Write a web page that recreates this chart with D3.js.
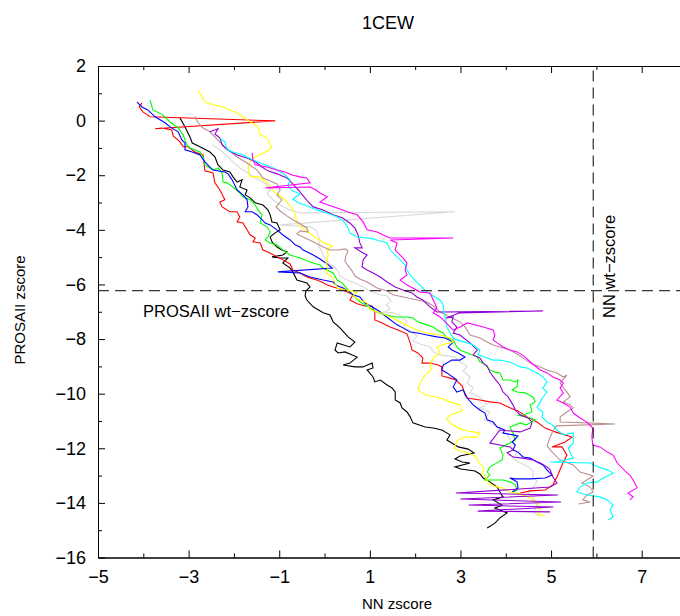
<!DOCTYPE html>
<html>
<head>
<meta charset="utf-8">
<script src="https://cdn.jsdelivr.net/npm/d3@7"></script>
<style>
  body { margin: 0; background: #fff; }
  svg { display: block; }
  text { font-family: "Liberation Sans", Arial, Helvetica, sans-serif; fill: #000; }
</style>
</head>
<body>
<svg id="chart" width="680" height="616"></svg>
<script>
// ---- axis ticks ----
const xMajorTicks = [-5, -3, -1, 1, 3, 5, 7];
const xMinorTicks = [-4, -2, 0, 2, 4, 6, 8];
const yMajorTicks = [2, 0, -2, -4, -6, -8, -10, -12, -14, -16];
const yMinorTicks = [1, -1, -3, -5, -7, -9, -11, -13, -15];

// ---- reference z-scores ----
const prosaWtZ = -6.23;
const nnWtZ = 5.93;

// ---- trajectories: [NN zscore, PROSAII zscore] ----
const seriesBlack = [[-3.19,0.10],[-3.08,-0.23],[-2.97,-0.60],[-2.92,-0.82],[-2.75,-0.96],[-2.53,-1.15],[-2.42,-1.33],[-2.35,-1.62],[-2.24,-1.81],[-2.09,-1.88],[-2.02,-2.06],[-1.93,-2.25],[-1.82,-2.17],[-1.87,-2.43],[-1.71,-2.54],[-1.75,-2.72],[-1.64,-2.83],[-1.53,-3.01],[-1.36,-3.09],[-1.25,-3.27],[-1.20,-3.45],[-1.16,-3.71],[-1.05,-3.75],[-0.98,-4.00],[-1.09,-4.11],[-1.20,-4.26],[-1.16,-4.44],[-1.05,-4.63],[-0.94,-4.74],[-0.83,-4.81],[-0.92,-4.92],[-1.16,-4.99],[-0.98,-5.03],[-0.81,-5.03],[-0.92,-5.21],[-0.76,-5.40],[-0.70,-5.54],[-0.61,-5.84],[-0.39,-5.95],[-0.32,-6.09],[-0.41,-6.24],[-0.43,-6.42],[-0.39,-6.57],[-0.25,-6.82],[-0.03,-7.04],[0.12,-7.12],[0.19,-7.37],[0.34,-7.59],[0.52,-7.92],[0.67,-8.11],[0.56,-8.29],[0.28,-8.14],[0.23,-8.40],[0.30,-8.51],[0.45,-8.47],[0.72,-8.66],[0.56,-8.88],[0.41,-8.95],[0.67,-9.02],[0.85,-9.02],[1.05,-8.88],[1.07,-9.06],[0.94,-9.13],[1.07,-9.39],[1.11,-9.57],[1.23,-9.50],[1.38,-9.68],[1.49,-9.79],[1.56,-9.94],[1.56,-10.23],[1.67,-10.34],[1.71,-10.52],[1.82,-10.67],[1.89,-10.85],[1.95,-11.07],[2.22,-11.22],[2.40,-11.26],[2.59,-11.33],[2.77,-11.51],[2.70,-11.70],[2.81,-11.81],[2.95,-11.95],[3.17,-12.03],[3.30,-12.17],[2.99,-12.28],[2.88,-12.39],[3.04,-12.50],[3.21,-12.54],[2.88,-12.68],[3.01,-12.76],[3.32,-12.83],[3.43,-12.94],[3.50,-13.09],[3.65,-13.23],[3.81,-13.42],[3.87,-13.60],[3.94,-13.78],[3.72,-13.89],[3.92,-14.08],[3.76,-14.19],[4.03,-14.37],[3.87,-14.55],[3.76,-14.74],[3.59,-14.92]];

const seriesRed = [[-4.03,0.65],[-4.09,0.50],[-4.01,0.32],[-3.85,0.14],[-1.09,-0.01],[-3.74,-0.30],[-3.59,-0.27],[-3.37,-0.34],[-3.34,-0.56],[-3.19,-0.78],[-3.12,-0.96],[-3.01,-0.96],[-2.86,-1.15],[-2.68,-1.26],[-2.64,-1.84],[-2.46,-1.92],[-2.42,-2.28],[-2.31,-2.54],[-2.20,-2.90],[-2.31,-2.98],[-2.26,-3.16],[-2.09,-3.34],[-1.93,-3.34],[-1.87,-3.53],[-1.93,-3.71],[-1.80,-3.75],[-1.71,-4.00],[-1.64,-4.19],[-1.53,-4.30],[-1.58,-4.44],[-1.42,-4.48],[-1.36,-4.74],[-1.25,-4.81],[-1.05,-4.99],[-0.92,-5.10],[-0.76,-5.25],[-0.70,-5.47],[-0.54,-5.58],[-0.39,-5.73],[-0.17,-5.84],[-0.06,-5.91],[0.06,-6.02],[0.19,-6.09],[0.41,-6.20],[0.63,-6.38],[0.56,-6.57],[0.72,-6.71],[0.89,-6.79],[1.05,-6.79],[1.11,-7.04],[1.11,-7.30],[1.27,-7.41],[1.45,-7.56],[1.62,-7.67],[1.82,-7.81],[1.89,-8.14],[1.93,-8.40],[2.06,-8.51],[2.17,-8.69],[2.15,-8.88],[2.33,-8.88],[2.51,-8.95],[2.59,-9.02],[2.59,-9.35],[2.77,-9.43],[2.90,-9.50],[3.04,-9.72],[3.10,-10.05],[3.15,-10.16],[3.43,-10.23],[3.65,-10.30],[3.87,-10.34],[4.09,-10.52],[4.27,-10.63],[4.47,-10.85],[4.69,-11.04],[4.87,-11.26],[5.09,-11.40],[5.31,-11.51],[5.46,-11.59],[5.31,-11.77],[5.02,-11.95],[5.24,-11.95],[5.35,-12.25],[5.26,-12.54],[5.13,-13.05],[5.04,-13.34],[4.87,-13.53],[4.54,-13.56],[4.32,-13.64]];

const seriesGreen = [[-3.85,0.76],[-3.79,0.39],[-3.57,0.21],[-3.41,-0.05],[-3.23,-0.27],[-3.12,-0.52],[-3.04,-0.89],[-2.97,-1.00],[-2.75,-1.15],[-2.68,-1.33],[-2.64,-1.62],[-2.46,-1.81],[-2.35,-1.73],[-2.26,-1.92],[-2.24,-2.25],[-2.15,-2.28],[-2.02,-2.43],[-1.87,-2.65],[-1.80,-2.79],[-1.64,-2.90],[-1.53,-3.09],[-1.47,-3.27],[-1.38,-3.45],[-1.42,-3.75],[-1.27,-3.89],[-1.20,-4.08],[-1.25,-4.26],[-1.31,-4.37],[-1.20,-4.48],[-1.05,-4.55],[-0.92,-4.74],[-0.76,-4.92],[-0.54,-5.03],[-0.32,-5.18],[-0.10,-5.29],[-0.03,-5.40],[0.19,-5.58],[0.28,-5.84],[0.39,-5.95],[0.52,-6.20],[0.67,-6.46],[0.78,-6.64],[0.96,-6.82],[1.18,-7.04],[1.38,-7.12],[1.56,-7.19],[1.82,-7.19],[1.95,-7.23],[2.06,-7.37],[2.26,-7.48],[2.40,-7.56],[2.48,-7.67],[2.62,-7.78],[2.70,-7.96],[2.84,-8.03],[2.92,-8.29],[2.99,-8.40],[3.15,-8.51],[3.37,-8.66],[3.43,-8.84],[3.50,-8.88],[3.65,-9.13],[3.76,-9.21],[3.87,-9.24],[3.94,-9.50],[4.09,-9.50],[4.21,-9.57],[4.27,-9.50],[4.25,-9.75],[4.14,-9.86],[4.25,-9.94],[4.43,-9.97],[4.60,-10.12],[4.65,-10.30],[4.54,-10.41],[4.58,-10.67],[4.38,-10.78],[4.25,-10.78],[4.54,-10.89],[4.65,-10.96],[4.45,-11.15],[4.32,-11.07],[4.09,-11.22],[4.16,-11.44],[4.21,-11.70],[3.87,-11.99],[3.94,-12.25],[3.92,-12.43],[3.65,-12.68],[3.59,-12.87],[3.65,-12.98],[3.54,-13.16],[3.94,-13.16],[4.09,-13.23],[4.21,-13.34],[4.25,-13.53],[4.14,-13.64]];

const seriesBlue = [[-4.14,0.68],[-4.03,0.50],[-3.90,0.39],[-3.74,0.14],[-3.52,-0.08],[-3.41,-0.23],[-3.23,-0.41],[-3.15,-0.71],[-3.08,-0.82],[-3.08,-1.07],[-2.92,-1.15],[-2.75,-1.26],[-2.64,-1.51],[-2.53,-1.70],[-2.46,-1.81],[-2.20,-1.88],[-2.13,-1.95],[-2.04,-2.17],[-1.93,-2.54],[-1.80,-2.72],[-1.71,-2.90],[-1.69,-3.16],[-1.75,-3.34],[-1.60,-3.34],[-1.49,-3.45],[-1.42,-3.56],[-1.31,-3.75],[-1.20,-3.82],[-1.05,-4.00],[-0.92,-4.19],[-0.76,-4.37],[-0.65,-4.55],[-0.54,-4.63],[-0.47,-4.74],[-0.25,-4.92],[-0.10,-5.07],[0.06,-5.25],[0.17,-5.40],[-1.03,-5.54],[-0.54,-5.58],[-0.32,-5.73],[-0.03,-5.84],[0.19,-5.91],[0.28,-6.05],[0.41,-6.13],[0.56,-6.28],[0.63,-6.38],[0.78,-6.46],[0.89,-6.68],[1.05,-6.82],[1.23,-7.01],[1.40,-7.23],[1.60,-7.48],[1.73,-7.59],[1.89,-7.74],[2.06,-7.78],[2.26,-7.85],[2.48,-7.92],[2.66,-7.96],[2.84,-8.11],[2.73,-8.29],[2.81,-8.40],[2.95,-8.51],[3.10,-8.66],[2.99,-8.77],[2.81,-8.77],[2.62,-8.95],[2.59,-9.13],[2.70,-9.24],[2.92,-9.50],[2.84,-9.75],[2.92,-9.94],[3.06,-9.86],[3.15,-10.16],[3.28,-10.41],[3.43,-10.60],[3.54,-10.71],[3.59,-10.96],[3.72,-11.04],[3.81,-11.22],[3.98,-11.33],[3.94,-11.44],[4.16,-11.51],[4.27,-11.55],[4.14,-11.77],[4.21,-11.88],[4.16,-12.06],[4.27,-12.14],[4.38,-12.32],[4.54,-12.36],[4.69,-12.50],[4.82,-12.61],[4.91,-12.79],[5.02,-12.98],[4.87,-13.09],[4.54,-13.12],[4.21,-13.12],[4.09,-13.09],[4.25,-13.23],[4.27,-13.45],[4.14,-13.60]];

const seriesYellow = [[-2.79,1.12],[-2.70,0.87],[-2.64,0.68],[-2.46,0.58],[-2.24,0.50],[-1.93,0.28],[-1.71,0.03],[-1.47,-0.23],[-1.42,-0.52],[-1.27,-0.63],[-1.16,-1.00],[-1.31,-1.15],[-1.53,-1.33],[-1.64,-1.51],[-1.69,-1.73],[-1.64,-2.06],[-1.45,-2.06],[-1.31,-2.21],[-1.20,-2.43],[-1.09,-2.65],[-0.94,-2.79],[-0.83,-2.98],[-0.72,-3.20],[-0.65,-3.45],[-0.61,-3.71],[-0.50,-3.93],[-0.36,-4.08],[-0.19,-4.30],[-0.01,-4.48],[0.17,-4.59],[0.06,-4.74],[0.08,-4.96],[0.03,-5.18],[0.08,-5.40],[0.03,-5.58],[0.17,-5.73],[0.23,-5.91],[0.28,-6.13],[0.45,-6.20],[0.72,-6.28],[0.63,-6.42],[0.78,-6.57],[0.94,-6.68],[1.00,-6.93],[1.23,-7.04],[1.45,-7.19],[1.67,-7.37],[1.89,-7.56],[2.04,-7.67],[2.26,-7.78],[2.55,-7.85],[2.77,-7.96],[2.84,-8.11],[2.66,-8.18],[2.48,-8.29],[2.55,-8.51],[2.40,-8.69],[2.33,-8.91],[2.35,-9.13],[2.22,-9.32],[2.11,-9.61],[2.06,-9.86],[2.22,-10.05],[2.55,-10.16],[2.77,-10.30],[2.99,-10.41],[3.04,-10.63],[2.77,-10.78],[2.70,-10.93],[2.81,-11.11],[2.99,-11.29],[3.17,-11.37],[3.43,-11.44],[3.35,-11.59],[3.06,-11.59],[2.92,-11.73],[2.86,-11.99],[2.99,-12.10],[3.17,-12.17],[3.35,-12.32],[3.41,-12.54],[3.52,-12.72],[3.48,-12.91],[3.57,-13.09],[3.61,-13.27],[3.72,-13.38],[3.92,-13.45],[4.09,-13.60],[4.32,-13.67],[4.54,-13.82],[4.69,-14.00],[4.76,-14.22],[4.71,-14.41],[4.87,-14.48]];

const seriesBrown = [[-2.86,0.14],[-2.79,-0.08],[-2.68,-0.27],[-2.53,-0.41],[-2.42,-0.60],[-2.31,-0.78],[-2.20,-0.96],[-1.93,-1.33],[-1.71,-1.55],[-1.49,-1.81],[-1.36,-2.10],[-1.20,-2.21],[-1.05,-2.32],[-0.98,-2.54],[-1.05,-2.72],[-0.94,-2.90],[-1.07,-3.16],[-0.98,-3.31],[-0.83,-3.49],[-0.70,-3.63],[-0.54,-3.78],[-0.39,-3.93],[-0.36,-4.08],[-0.54,-4.04],[-0.61,-4.15],[-0.43,-4.30],[-0.25,-4.44],[-0.03,-4.63],[0.12,-4.74],[0.30,-4.74],[0.45,-4.70],[0.52,-4.77],[0.47,-4.96],[0.45,-5.14],[0.52,-5.32],[0.61,-5.51],[0.67,-5.69],[0.78,-5.80],[0.94,-5.91],[1.16,-6.13],[1.38,-6.24],[1.51,-6.38],[1.82,-6.49],[2.04,-6.57],[2.26,-6.64],[2.40,-6.79],[2.55,-7.01],[2.81,-7.23],[2.99,-7.37],[3.12,-7.59],[3.21,-7.85],[3.43,-7.96],[3.59,-8.11],[3.72,-8.22],[3.94,-8.33],[4.09,-8.40],[4.25,-8.55],[4.38,-8.69],[4.54,-8.88],[4.76,-9.02],[4.91,-9.13],[5.13,-9.24],[5.27,-9.39],[5.35,-9.32],[5.20,-9.61],[5.27,-9.79],[5.35,-9.94],[5.42,-10.12],[5.27,-10.30],[5.42,-10.41],[5.49,-10.52],[5.35,-10.67],[5.20,-10.85],[5.20,-11.04],[5.79,-11.07],[6.41,-11.11],[5.11,-11.18],[5.04,-11.37],[4.98,-11.59],[4.91,-11.92],[5.04,-12.17],[5.20,-12.43],[5.49,-12.61],[5.64,-12.87],[5.93,-13.01],[5.79,-13.16],[5.68,-13.27],[5.86,-13.42],[5.93,-13.60],[5.79,-13.71],[5.70,-13.89],[5.86,-13.97],[5.60,-14.04]];

const seriesGrey = [[-2.48,-0.89],[-2.31,-1.07],[-2.15,-1.29],[-2.02,-1.51],[-1.87,-1.73],[-1.69,-1.92],[-1.53,-2.10],[-1.42,-2.21],[-1.29,-2.32],[-1.20,-2.54],[-1.27,-2.68],[-1.16,-2.87],[-0.98,-3.09],[-0.76,-3.27],[-0.54,-3.38],[2.88,-3.34],[-0.98,-3.82],[-0.65,-3.86],[-0.30,-3.89],[-0.17,-4.04],[-0.14,-4.22],[-0.10,-4.41],[-0.14,-4.59],[-0.06,-4.77],[-0.03,-4.96],[0.06,-5.14],[0.12,-5.25],[0.21,-5.36],[0.30,-5.51],[0.34,-5.69],[0.45,-5.80],[0.56,-5.87],[0.72,-5.98],[0.85,-6.09],[1.00,-6.24],[1.16,-6.35],[1.38,-6.42],[1.47,-6.60],[1.36,-6.75],[1.45,-6.90],[1.31,-7.01],[1.51,-7.04],[1.67,-7.15],[1.82,-7.37],[1.73,-7.56],[1.89,-7.70],[2.04,-7.89],[1.95,-8.07],[2.11,-8.18],[2.33,-8.29],[2.40,-8.47],[2.55,-8.58],[2.88,-8.66],[2.99,-8.84],[3.15,-8.99],[3.06,-9.17],[3.21,-9.39],[3.15,-9.61],[3.28,-9.79],[3.21,-9.97],[3.43,-10.12],[3.59,-10.38],[3.43,-10.52],[3.65,-10.67],[3.52,-10.96],[3.70,-11.11],[3.87,-11.26],[3.81,-11.37],[4.03,-11.48],[4.09,-11.70],[4.12,-11.95],[4.25,-12.17],[4.16,-12.36],[4.32,-12.54],[4.47,-12.65],[4.60,-12.83],[4.60,-13.05],[4.69,-13.20],[4.60,-13.45],[4.47,-13.60],[4.60,-13.78],[4.69,-14.11],[4.60,-14.33],[4.76,-14.52]];

const seriesViolet = [[-2.53,-0.41],[-2.35,-0.30],[-2.42,-0.49],[-2.31,-0.63],[-2.26,-0.89],[-2.15,-1.07],[-1.93,-1.26],[-1.71,-1.37],[-1.53,-1.51],[-1.38,-1.70],[-1.25,-1.84],[-1.05,-1.95],[-0.83,-2.10],[-0.70,-2.32],[-0.58,-2.54],[-0.47,-2.76],[-0.36,-2.98],[-0.25,-3.16],[-0.03,-3.27],[0.19,-3.45],[0.39,-3.56],[0.56,-3.75],[0.67,-3.93],[0.74,-4.19],[0.78,-4.48],[0.83,-4.66],[0.67,-4.66],[0.85,-4.85],[0.94,-4.92],[0.85,-5.10],[0.83,-5.36],[0.94,-5.47],[1.07,-5.58],[1.23,-5.73],[1.38,-5.91],[1.56,-6.09],[1.73,-6.20],[1.93,-6.31],[2.04,-6.46],[2.17,-6.57],[2.33,-6.82],[2.48,-7.01],[4.82,-6.97],[2.99,-7.04],[2.68,-7.23],[2.84,-7.19],[2.81,-7.37],[2.92,-7.56],[2.84,-7.78],[2.99,-7.85],[3.21,-8.14],[3.37,-8.40],[3.28,-8.58],[3.43,-8.69],[3.50,-8.88],[3.59,-8.99],[3.65,-9.21],[3.76,-9.46],[3.87,-9.68],[3.94,-9.94],[4.05,-10.12],[4.16,-10.41],[4.21,-10.60],[4.32,-10.78],[4.49,-10.89],[4.58,-11.04],[4.54,-11.26],[4.32,-11.40],[3.87,-11.33],[3.65,-11.81],[3.87,-11.88],[4.09,-11.95],[4.16,-12.06],[4.03,-12.17],[4.16,-12.32],[4.38,-12.36],[4.60,-12.43],[4.76,-12.54],[4.91,-12.68],[4.98,-12.79],[5.04,-13.05],[5.13,-13.27],[4.98,-13.42],[2.90,-13.64],[5.15,-13.71],[3.00,-13.86],[5.22,-13.97],[3.18,-14.08],[5.05,-14.15],[3.38,-14.30],[4.98,-14.33],[4.70,-14.33]];

const seriesCyan = [[-2.31,-0.63],[-2.20,-0.78],[-2.15,-1.07],[-2.02,-1.15],[-1.80,-1.26],[-1.58,-1.44],[-1.36,-1.59],[-1.14,-1.73],[-0.92,-1.92],[-0.76,-2.17],[-0.81,-2.39],[-0.70,-2.58],[-0.54,-2.68],[-0.70,-2.87],[-0.58,-3.01],[-0.39,-3.12],[-0.17,-3.27],[0.06,-3.38],[0.28,-3.53],[0.41,-3.67],[0.52,-3.93],[0.56,-4.11],[0.72,-4.26],[0.94,-4.30],[1.07,-4.33],[1.23,-4.41],[1.38,-4.48],[1.45,-4.74],[1.60,-4.99],[1.67,-5.10],[1.78,-5.29],[1.82,-5.47],[1.89,-5.66],[1.95,-5.77],[2.06,-5.95],[2.17,-6.13],[2.26,-6.28],[2.40,-6.42],[2.55,-6.57],[2.62,-6.75],[2.64,-7.04],[2.68,-7.37],[2.70,-7.56],[2.84,-7.96],[2.92,-8.03],[3.15,-8.14],[3.28,-8.22],[3.43,-8.40],[3.39,-8.58],[3.59,-8.69],[3.72,-8.77],[3.87,-8.77],[4.09,-8.84],[4.32,-9.02],[4.47,-9.06],[4.69,-9.24],[4.82,-9.39],[4.91,-9.57],[4.82,-9.79],[4.91,-9.94],[4.82,-10.12],[4.76,-10.30],[4.69,-10.49],[4.76,-10.60],[4.82,-10.67],[4.80,-10.85],[4.91,-11.04],[5.04,-11.15],[5.13,-11.33],[5.27,-11.51],[5.49,-11.44],[5.49,-11.81],[5.38,-11.99],[5.42,-12.17],[5.49,-12.36],[5.13,-12.50],[4.98,-12.50],[5.86,-12.54],[6.02,-12.68],[6.24,-12.79],[6.37,-12.91],[6.15,-13.09],[6.02,-13.23],[5.79,-13.27],[5.64,-13.42],[5.57,-13.60],[5.79,-13.71],[6.08,-13.78],[6.24,-13.89],[6.37,-14.08],[6.30,-14.26],[6.37,-14.52],[6.26,-14.63]];

const seriesMagenta = [[-1.60,-1.18],[-1.58,-1.44],[-1.53,-1.62],[-1.27,-1.70],[-1.05,-1.81],[-0.87,-1.88],[-0.72,-1.99],[-0.54,-2.06],[-0.39,-2.10],[-0.32,-2.28],[-1.31,-2.47],[-0.32,-2.43],[-0.19,-2.54],[-0.10,-2.65],[0.06,-2.79],[-0.10,-2.98],[0.08,-3.09],[0.28,-3.20],[0.50,-3.34],[0.72,-3.45],[0.85,-3.71],[0.94,-4.00],[1.16,-4.08],[1.34,-4.23],[1.45,-4.30],[2.84,-4.30],[1.45,-4.37],[1.60,-4.48],[1.56,-4.74],[1.73,-5.03],[1.82,-5.21],[1.78,-5.47],[1.82,-5.66],[1.67,-5.84],[1.82,-6.02],[1.95,-6.13],[2.11,-6.28],[2.33,-6.31],[2.40,-6.57],[2.48,-6.86],[2.40,-7.04],[2.55,-7.19],[2.62,-7.30],[2.84,-7.67],[2.99,-7.56],[3.15,-7.41],[3.43,-7.52],[3.72,-7.67],[3.76,-7.85],[3.72,-8.03],[3.81,-8.14],[3.94,-8.29],[4.09,-8.40],[4.25,-8.47],[4.36,-8.58],[4.43,-8.66],[4.54,-8.84],[4.76,-9.13],[4.91,-9.24],[5.04,-9.39],[5.20,-9.50],[5.27,-9.61],[5.20,-9.79],[5.27,-9.97],[5.13,-10.23],[5.27,-10.34],[5.42,-10.49],[5.49,-10.71],[5.64,-10.89],[5.79,-11.04],[5.92,-11.26],[5.90,-11.59],[5.92,-11.88],[6.08,-11.95],[6.24,-12.14],[6.37,-12.25],[6.46,-12.54],[6.68,-12.91],[6.74,-12.98],[6.81,-13.16],[6.90,-13.45],[6.70,-13.64],[6.81,-13.78],[6.74,-13.89]];

const seriesList = [
  { name: "grey",    color: "#d9d9d9", pts: seriesGrey },
  { name: "black",   color: "#000000", pts: seriesBlack },
  { name: "red",     color: "#ff0000", pts: seriesRed },
  { name: "green",   color: "#00ff00", pts: seriesGreen },
  { name: "blue",    color: "#0000ff", pts: seriesBlue },
  { name: "yellow",  color: "#ffff00", pts: seriesYellow },
  { name: "brown",   color: "#bc8f8f", pts: seriesBrown },
  { name: "violet",  color: "#9400d3", pts: seriesViolet },
  { name: "cyan",    color: "#00ffff", pts: seriesCyan },
  { name: "magenta", color: "#ff00ff", pts: seriesMagenta }
];

// ---- layout ----
const svg = d3.select("#chart");
const plotL = 98, plotR = 687, plotT = 66, plotB = 557.5;
const x = d3.scaleLinear().domain([-5, 8]).range([plotL, plotR]);
const y = d3.scaleLinear().domain([-16, 2]).range([plotB, plotT]);
const fmt = d3.format("d");

function styleAxis(g, labelSize) {
  g.attr("font-family", null).attr("font-size", null);
  g.selectAll("path.domain").attr("stroke", "#000").attr("stroke-width", 1);
  g.selectAll(".tick line").attr("stroke", "#000").attr("stroke-width", 1);
  g.selectAll(".tick text").attr("font-size", labelSize).attr("fill", "#000");
}

// bottom axis
svg.append("g").attr("transform", `translate(0,${plotB})`)
  .call(d3.axisBottom(x).tickValues(xMajorTicks).tickSizeInner(-7).tickSizeOuter(0).tickPadding(13).tickFormat(fmt))
  .call(g => styleAxis(g, 18));
svg.append("g").attr("transform", `translate(0,${plotB})`)
  .call(d3.axisBottom(x).tickValues(xMinorTicks).tickSizeInner(-4).tickSizeOuter(0).tickFormat(""))
  .call(g => styleAxis(g, 18));
// top axis
svg.append("g").attr("transform", `translate(0,${plotT})`)
  .call(d3.axisTop(x).tickValues(xMajorTicks).tickSizeInner(-7).tickSizeOuter(0).tickFormat(""))
  .call(g => styleAxis(g, 18));
svg.append("g").attr("transform", `translate(0,${plotT})`)
  .call(d3.axisTop(x).tickValues(xMinorTicks).tickSizeInner(-4).tickSizeOuter(0).tickFormat(""))
  .call(g => styleAxis(g, 18));
// left axis
svg.append("g").attr("transform", `translate(${plotL},0)`)
  .call(d3.axisLeft(y).tickValues(yMajorTicks).tickSizeInner(-7).tickSizeOuter(0).tickPadding(12).tickFormat(fmt))
  .call(g => styleAxis(g, 18));
svg.append("g").attr("transform", `translate(${plotL},0)`)
  .call(d3.axisLeft(y).tickValues(yMinorTicks).tickSizeInner(-4).tickSizeOuter(0).tickFormat(""))
  .call(g => styleAxis(g, 18));
// right axis
svg.append("g").attr("transform", `translate(${plotR},0)`)
  .call(d3.axisRight(y).tickValues(yMajorTicks).tickSizeInner(-7).tickSizeOuter(0).tickFormat(""))
  .call(g => styleAxis(g, 18));

// ---- trajectories ----
const line = d3.line().x(d => x(d[0])).y(d => y(d[1]));
svg.append("g").selectAll("path.traj")
  .data(seriesList)
  .join("path")
  .attr("class", "traj")
  .attr("fill", "none")
  .attr("stroke", d => d.color)
  .attr("stroke-width", 1.1)
  .attr("stroke-linejoin", "miter")
  .attr("d", d => line(d.pts));

// ---- reference lines ----
svg.append("line")
  .attr("x1", x(-5)).attr("x2", x(8))
  .attr("y1", y(prosaWtZ)).attr("y2", y(prosaWtZ))
  .attr("stroke", "#000").attr("stroke-width", 1).attr("stroke-dasharray", "11,6");
svg.append("line")
  .attr("x1", x(nnWtZ)).attr("x2", x(nnWtZ))
  .attr("y1", y(-16)).attr("y2", y(2))
  .attr("stroke", "#000").attr("stroke-width", 1).attr("stroke-dasharray", "11,6");

svg.append("text")
  .attr("x", 143).attr("y", y(prosaWtZ) + 26)
  .attr("font-size", 16.5)
  .text("PROSAII wt\u2212zscore");
svg.append("text")
  .attr("transform", `translate(${x(nnWtZ) + 22},318) rotate(-90)`)
  .attr("font-size", 16.5)
  .text("NN wt\u2212zscore");

// ---- titles ----
svg.append("text")
  .attr("x", 388).attr("y", 29)
  .attr("text-anchor", "middle")
  .attr("font-size", 18)
  .text("1CEW");
svg.append("text")
  .attr("x", 397).attr("y", 609)
  .attr("text-anchor", "middle")
  .attr("font-size", 15)
  .text("NN zscore");
svg.append("text")
  .attr("transform", `translate(25,310) rotate(-90)`)
  .attr("text-anchor", "middle")
  .attr("font-size", 15)
  .text("PROSAII zscore");
</script>
</body>
</html>
